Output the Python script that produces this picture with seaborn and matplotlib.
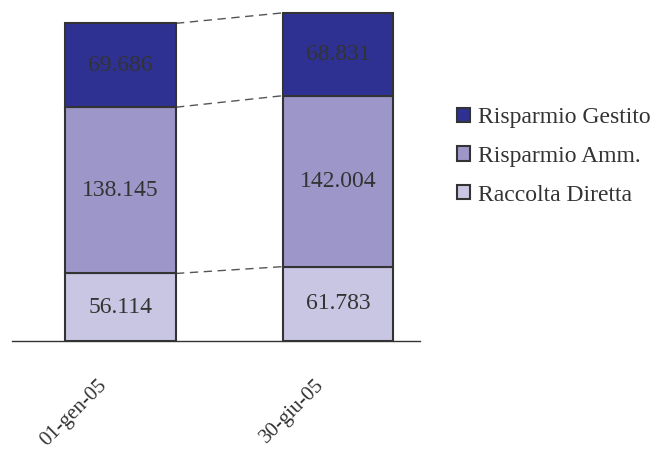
import numpy as np
import pandas as pd
import matplotlib
matplotlib.use('Agg')
import matplotlib.pyplot as plt
import matplotlib.transforms as mtransforms
import seaborn as sns

# data
dates = ['01-gen-05', '30-giu-05']
raccolta_diretta = [56.114, 61.783]
risparmio_amm = [138.145, 142.004]
risparmio_gestito = [69.686, 68.831]
series_names = ['Raccolta Diretta', 'Risparmio Amm.', 'Risparmio Gestito']

sns.set_style('white')
plt.rcParams['font.family'] = ['Liberation Serif', 'DejaVu Serif']

colors = {'Raccolta Diretta': '#c8c6e2',
          'Risparmio Amm.': '#9c97c8',
          'Risparmio Gestito': '#2e3192'}
text_color = '#333333'
edge_color = '#333333'
bar_w = 0.51

df = pd.DataFrame({'date': dates,
                   'Raccolta Diretta': raccolta_diretta,
                   'Risparmio Amm.': risparmio_amm,
                   'Risparmio Gestito': risparmio_gestito})

fig = plt.figure(figsize=(6.66, 4.5), dpi=100)
ax = fig.add_axes([12 / 666, 1 - 341 / 450, 408 / 666, 337 / 450])

bottom = np.zeros(len(dates))
for name in series_names:
    vals = df[name].to_numpy()
    sns.barplot(x=df['date'], y=vals, bottom=bottom, color=colors[name],
                width=bar_w, edgecolor=edge_color, linewidth=1.5, ax=ax,
                saturation=1, label=name)
    for i, v in enumerate(vals):
        ax.text(i, bottom[i] + v / 2, f'{v:.3f}', ha='center', va='center',
                fontsize=17, color=text_color)
    bottom = bottom + vals
    # dashed connector between bars at the top of each layer
    ax.plot([0 + bar_w / 2, 1 - bar_w / 2], bottom, ls=(0, (6, 4)),
            color='#555555', lw=1, zorder=0)

h, l = ax.get_legend_handles_labels()
if ax.get_legend() is not None:
    ax.get_legend().remove()

ax.set_xlim(-0.499, 1.377)
ax.set_ylim(0, 280)
ax.set_yticks([])
ax.set_xlabel('')
ax.set_ylabel('')
for s in ['top', 'right', 'left']:
    ax.spines[s].set_visible(False)
ax.spines['bottom'].set_color('#333333')
ax.spines['bottom'].set_linewidth(1)
ax.tick_params(axis='x', length=0, pad=25, labelsize=15, labelcolor=text_color)
shift = mtransforms.ScaledTranslation(-23 / 100, 0, fig.dpi_scale_trans)
for lab in ax.get_xticklabels():
    lab.set_rotation(45)
    lab.set_ha('right')
    lab.set_rotation_mode('anchor')
    lab.set_transform(lab.get_transform() + shift)

leg = fig.legend(h[::-1], l[::-1], loc='upper left', bbox_to_anchor=(436 / 666, 1 - 86 / 450),
                 frameon=False, fontsize=17, handlelength=0.55, handleheight=0.55,
                 handletextpad=0.35, labelspacing=0.75, labelcolor=text_color)

fig.savefig('out.png', dpi=100)
